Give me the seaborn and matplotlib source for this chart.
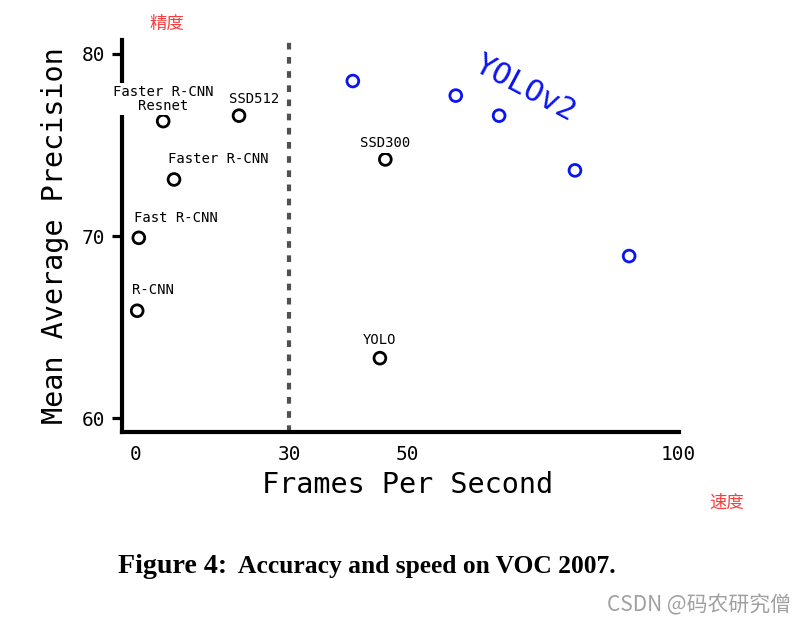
import matplotlib
matplotlib.use("Agg")
import matplotlib.pyplot as plt
import seaborn as sns
import pandas as pd

# ---- data ----
methods = ["R-CNN", "Fast R-CNN", "Faster R-CNN", "Faster R-CNN\nResnet",
           "SSD512", "SSD300", "YOLO"]
method_fps = [0.2, 0.5, 7, 5, 19, 46, 45]
method_map = [65.9, 69.9, 73.1, 76.3, 76.6, 74.2, 63.3]

yolov2_fps = [40, 59, 67, 81, 91]
yolov2_map = [78.5, 77.7, 76.6, 73.6, 68.9]

x_tick_labels = ["0", "30", "50", "100"]
y_ticks = [60, 70, 80]

# ---- style ----
sns.set_theme(style="white")
plt.rcParams["font.family"] = ["DejaVu Sans Mono", "DejaVu Sans"]

fig = plt.figure(figsize=(7.96, 6.23), dpi=100)
ax = fig.add_axes([122 / 796, 1 - 432 / 623, (679 - 122) / 796, (432 - 40) / 623])

df_m = pd.DataFrame({"fps": method_fps, "map": method_map, "name": methods})
df_y = pd.DataFrame({"fps": yolov2_fps, "map": yolov2_map})

sns.scatterplot(data=df_m, x="fps", y="map", ax=ax, s=72, color="black",
                facecolors="none", edgecolor="black", linewidth=2.0, zorder=4)
sns.scatterplot(data=df_y, x="fps", y="map", ax=ax, s=72, color="#0a14f0",
                facecolors="none", edgecolor="#0a14f0", linewidth=2.0, zorder=4)

# label offsets (points) for each method
offsets = {
    "R-CNN": (11, 15),
    "Fast R-CNN": (27, 14.5),
    "Faster R-CNN": (32, 14.5),
    "Faster R-CNN\nResnet": (0, 16),
    "SSD512": (11, 12),
    "SSD300": (0, 11.5),
    "YOLO": (0, 13),
}
for name, fx, fy in zip(methods, method_fps, method_map):
    ax.annotate(name, (fx, fy), xytext=offsets[name], textcoords="offset points",
                ha="center", va="center", fontsize=10, color="black",
                linespacing=1.0, zorder=5,
                bbox=dict(boxstyle="square,pad=0.15", fc="white", ec="none"))

ax.text(71.8, 78.1, "YOLOv2", color="#0a14f0", fontsize=22, rotation=-28,
        ha="center", va="center")

# real-time divider
realtime_line = 28.3
ax.axvline(realtime_line, color="#505050", lw=3, dashes=(1.6, 1.8), zorder=1)

ax.set_xlim(-2.6, 100.2)
ax.set_ylim(59.25, 80.75)
ax.set_xticks([0, realtime_line, 50, 100])
ax.set_xticklabels(x_tick_labels)
ax.set_yticks(y_ticks)

for s in ["top", "right"]:
    ax.spines[s].set_visible(False)
for s in ["left", "bottom"]:
    ax.spines[s].set_linewidth(3)
    ax.spines[s].set_color("black")

ax.tick_params(axis="x", length=0, pad=9, labelsize=14, colors="black")
ax.tick_params(axis="y", direction="out", left=True, length=7, width=2.3,
               pad=5, labelsize=14, colors="black")

ax.set_xlabel("Frames Per Second", fontsize=20.5, color="black")
ax.set_ylabel("Mean Average Precision", fontsize=20.5, color="black")
ax.xaxis.label.set_va("center")
ax.yaxis.label.set_va("center")
ax.xaxis.set_label_coords((408 - 122) / 557, -(485 - 432) / 392)
ax.yaxis.set_label_coords((55 - 122) / 557, 0.5)

# annotations in Chinese
cjk = ["Noto Sans CJK SC", "DejaVu Sans"]
fig.text(167 / 796, 1 - 24 / 623, "精度", color="#fa3c3c", fontsize=12.5,
         family=cjk, ha="center", va="center")
fig.text(727 / 796, 1 - 503 / 623, "速度", color="#fa3c3c", fontsize=12.5,
         family=cjk, ha="center", va="center")

# caption
fig.text(118 / 796, 1 - 573 / 623, "Figure 4:",
         family=["Liberation Serif"], fontweight="bold", fontsize=20.2,
         ha="left", va="baseline", color="black")
fig.text(238 / 796, 1 - 573 / 623, "Accuracy and speed on VOC 2007.",
         family=["Liberation Serif"], fontweight="bold", fontsize=18.4,
         ha="left", va="baseline", color="black")

# watermark
fig.text(791 / 796, 1 - 605 / 623, "CSDN @码农研究僧", color="#a0a0a0",
         fontsize=15, family=cjk, ha="right", va="center")

fig.savefig("out.png", dpi=100, facecolor="white")
